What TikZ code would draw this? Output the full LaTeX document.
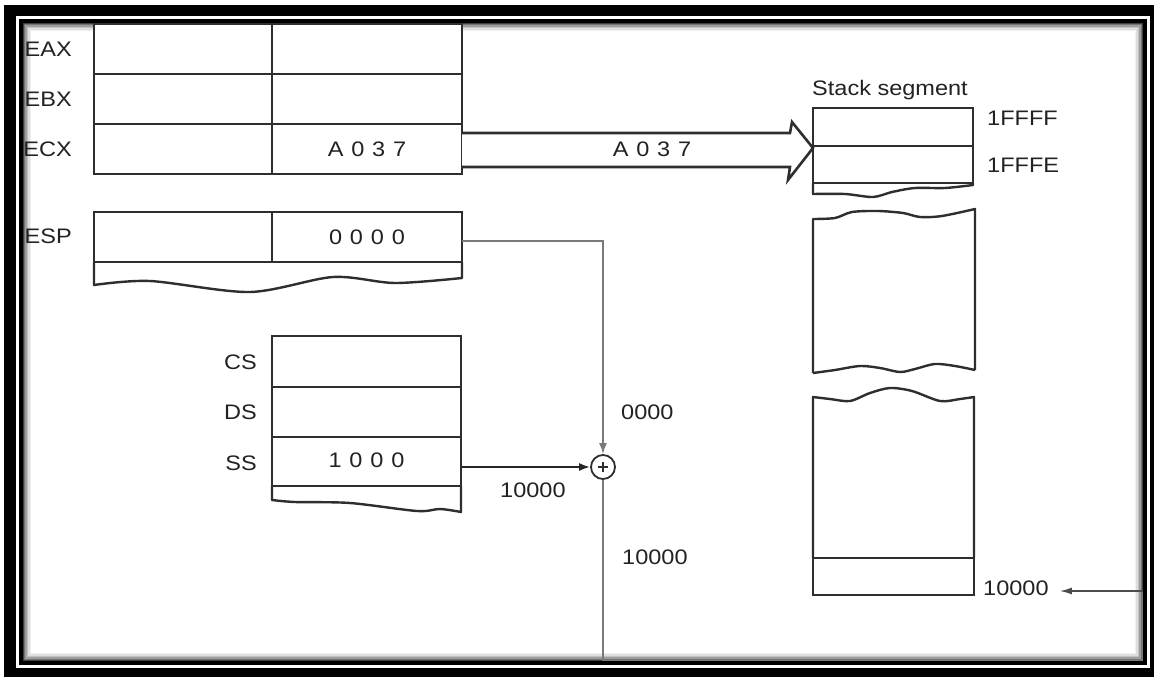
\documentclass[tikz,border=0pt]{standalone}
\usepackage{fontspec}
\setmainfont{Liberation Sans}
\usetikzlibrary{arrows.meta}
\definecolor{boxc}{HTML}{2E2E2E}
\definecolor{linec}{HTML}{7A7A7A}
\definecolor{txtc}{HTML}{222222}
\newcommand{\wt}[1]{\scalebox{1.12}[1]{#1}}
\newcommand{\gapped}[4]{#1\hspace{7pt}#2\hspace{7pt}#3\hspace{7pt}#4}
\begin{document}
\begin{tikzpicture}[x=1pt,y=-1pt,
  box/.style={draw=boxc, line width=2.6pt, fill=white, inner sep=0pt, outer sep=0pt, anchor=north west,
              font=\fontsize{21}{25}\selectfont, text=txtc},
  lbl/.style={inner sep=0pt, text height=15pt, text depth=0pt, font=\fontsize{21}{25}\selectfont, text=txtc},
  conn/.style={draw=linec, line width=1.6pt},
  tip/.style={-{Latex[length=11pt,width=8pt]}},
  wave/.style={draw=boxc, line width=2.4pt, line join=round},
]
\useasboundingbox (0,0) rectangle (1154,677);
% outer frame
\fill[black] (4,5) rectangle (1154,677);
\fill[white] (16,16) rectangle (1150,668);
% inner frame shading
\foreach \d/\c in {2/75,3.5/55,5/38,6.5/24,8/13,9.5/6}{
  \draw[black!\c, line width=1.6pt] (21+\d,21+\d) rectangle (1145-\d,663-\d);
}

% general purpose registers
\node[box, minimum width=178pt, minimum height=50pt] (eaxL) at (94,24) {};
\node[box, minimum width=190pt, minimum height=50pt] (eaxR) at (272,24) {};
\node[box, minimum width=178pt, minimum height=50pt] (ebxL) at (94,74) {};
\node[box, minimum width=190pt, minimum height=50pt] (ebxR) at (272,74) {};
\node[box, minimum width=178pt, minimum height=50pt] (ecxL) at (94,124) {};
\node[box, minimum width=190pt, minimum height=50pt] (ecxR) at (272,124) {\wt{\gapped A037}};
\node[box, minimum width=178pt, minimum height=50pt] (espL) at (94,212) {};
\node[box, minimum width=190pt, minimum height=50pt] (espR) at (272,212) {\wt{\gapped 0000}};
\draw[wave] (94,262) -- (94,285) -- plot[smooth] coordinates {(94,285) (150,281) (250,292) (333,277) (395,283) (462,278)} -- (462,262);

\node[lbl, anchor=east] (leax) at (72,49) {\wt{EAX}};
\node[lbl, anchor=east] (lebx) at (72,99) {\wt{EBX}};
\node[lbl, anchor=east] (lecx) at (72,149) {\wt{ECX}};
\node[lbl, anchor=east] (lesp) at (72,236) {\wt{ESP}};

% segment registers
\node[box, minimum width=189pt, minimum height=51pt] (cs) at (272,336) {};
\node[box, minimum width=189pt, minimum height=50pt] (ds) at (272,387) {};
\node[box, minimum width=189pt, minimum height=49pt] (ss) at (272,437) {\raisebox{2pt}{\wt{\gapped 1000}}};
\draw[wave] (272,486) -- (272,500) -- plot[smooth] coordinates {(272,500) (295,502) (350,503) (417,511) (440,509) (461,512)} -- (461,486);
\node[lbl, anchor=east] (lcs) at (257,362) {\wt{CS}};
\node[lbl, anchor=east] (lds) at (257,412) {\wt{DS}};
\node[lbl, anchor=east] (lss) at (257,463) {\wt{SS}};

% stack segment
\node[lbl, anchor=west] (stk) at (812,88) {\wt{Stack segment}};
\node[box, minimum width=160pt, minimum height=38pt] (st1) at (813,108) {};
\node[box, minimum width=160pt, minimum height=37pt] (st2) at (813,146) {};
\draw[wave] (813,183) -- (813,194) -- plot[smooth] coordinates {(813,194) (845,194) (873,197) (892,192) (915,188) (945,188) (973,185)} -- (973,183);
\node[lbl, anchor=west] (f1) at (987,118) {\wt{1FFFF}};
\node[lbl, anchor=west] (f2) at (987,165) {\wt{1FFFE}};

\draw[wave] (813,373) -- (813,219) -- plot[smooth] coordinates {(813,219) (835,218) (852,212) (878,211) (903,213) (920,217) (942,216) (975,209)}
  -- (975,370);
\draw[wave] plot[smooth] coordinates {(813,373) (835,370) (860,366) (880,368) (900,372) (915,369) (935,364) (955,366) (975,370)};

\draw[wave] (813,558) -- (813,397) -- plot[smooth] coordinates {(813,397) (830,399) (850,401) (870,393) (890,388) (912,391) (940,401) (960,399) (974,397)} -- (974,558);
\node[box, minimum width=161pt, minimum height=37pt] (stl) at (813,558) {};
\node[lbl, anchor=west] (tenk) at (983,588) {\wt{10000}};

% block arrow
\draw[draw=boxc, line width=2.6pt, fill=white, line join=miter]
  (ecxR.east |- 0,133) -- (790,133) -- (792,122) -- ([yshift=-2pt]st1.south west) -- (788,180) -- (790,167) -- (ecxR.east |- 0,167);
\node[lbl] (a037) at (652,149) {\wt{\gapped A037}};

% adder
\node[circle, draw=boxc, line width=1.8pt, minimum size=24pt, inner sep=0pt, fill=white] (plus) at (603,467) {};
\draw[boxc, line width=1.2pt] ([xshift=-5pt]plus.center) -- ([xshift=5pt]plus.center);
\draw[boxc, line width=1.2pt] ([yshift=-5pt]plus.center) -- ([yshift=5pt]plus.center);

\draw[conn, tip] ([yshift=-4pt]espR.east) -| (plus.north);
\draw[draw=black!85, line width=1.8pt, tip] (ss.east |- plus.west) -- (plus.west);

\node[lbl, anchor=west] (l0000) at (621,412) {\wt{0000}};
\node[lbl, anchor=west] (l10a) at (500,490) {\wt{10000}};
\node[lbl, anchor=west] (l10b) at (622,557) {\wt{10000}};

\coordinate (c1) at (603,661);
\coordinate (c2) at (1143,661);
\coordinate (c3) at (1143,591);
\draw[conn] (plus.south) -- (c1) -- (c2) -- (c3);
\draw[conn, draw=black!70, -{Latex[length=12pt,width=7pt]}] (c3) -- ([xshift=11pt]tenk.east |- c3);
\draw[black, line width=3.5pt] (21,21) rectangle (1145,663);
\end{tikzpicture}
\end{document}
